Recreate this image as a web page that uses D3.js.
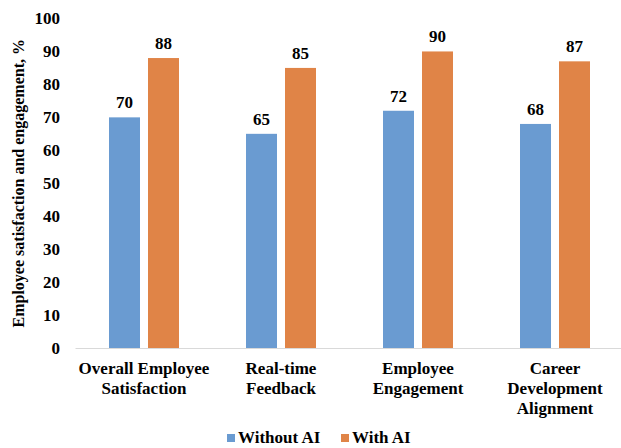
<!DOCTYPE html>
<html>
<head>
<meta charset="utf-8">
<script src="https://cdn.jsdelivr.net/npm/d3@7"></script>
<style>
  html, body { margin: 0; padding: 0; background: #fff; font-family: 'Liberation Serif', serif; }
</style>
</head>
<body>
<svg id="chart" width="621" height="448">
  <text id="ytitle" style="font-family:'Liberation Serif';font-weight:bold;font-size:16px" text-anchor="middle">Employee satisfaction and engagement, %</text>
</svg>
<script>
// Chart data
const categories = [
  ["Overall Employee", "Satisfaction"],
  ["Real-time", "Feedback"],
  ["Employee", "Engagement"],
  ["Career", "Development", "Alignment"]
];
const seriesNames = ["Without AI", "With AI"];
const withoutAI = [70, 65, 72, 68];
const withAI = [88, 85, 90, 87];
const yTicks = [0, 10, 20, 30, 40, 50, 60, 70, 80, 90, 100];
const colors = ["#6A9BD1", "#E08447"];

const FONT = "Liberation Serif";

const svg = d3.select("#chart");
const W = 621;
const plotLeft = 75.5, plotRight = 623.5, plotTop = 18.5, baseline = 348;

const x = d3.scaleBand()
  .domain(d3.range(categories.length))
  .range([plotLeft, plotRight])
  .paddingInner(0).paddingOuter(0);

const y = d3.scaleLinear().domain([0, 100]).range([baseline, plotTop]);

function styleText(sel, size) {
  return sel.attr("style", `font-family:'${FONT}';font-weight:bold;font-size:${size}px;fill:#000`);
}

const barW = 31, gap = 8;
const series = [withoutAI, withAI];

// Bars and value labels
series.forEach((vals, si) => {
  const offset = si === 0 ? -(gap / 2 + barW) : gap / 2;
  svg.append("g").selectAll("rect")
    .data(vals)
    .join("rect")
    .attr("x", (d, i) => x(i) + x.bandwidth() / 2 + offset)
    .attr("y", d => y(d))
    .attr("width", barW)
    .attr("height", d => y(0) - y(d))
    .attr("fill", colors[si]);

  svg.append("g").selectAll("text")
    .data(vals)
    .join("text")
    .attr("x", (d, i) => x(i) + x.bandwidth() / 2 + offset + barW / 2)
    .attr("y", d => y(d) - 9)
    .attr("text-anchor", "middle")
    .text(d => d)
    .call(styleText, 17);
});

// Baseline
svg.append("line")
  .attr("x1", plotLeft).attr("x2", W)
  .attr("y1", baseline + 0.5).attr("y2", baseline + 0.5)
  .attr("stroke", "#d9d9d9").attr("stroke-width", 1.2);

// Y axis tick labels
const yAxis = d3.axisLeft(y).tickValues(yTicks).tickSize(0).tickPadding(0);
const gy = svg.append("g").attr("transform", "translate(60,0)").call(yAxis);
gy.attr("font-family", FONT).attr("font-size", 17);
gy.select(".domain").remove();
gy.selectAll("text").call(styleText, 17);

// Y axis title (declared in the markup, positioned here)
d3.select("#ytitle")
  .attr("transform", `translate(24,${(baseline + plotTop) / 2}) rotate(-90)`);

// Category labels
const catG = svg.append("g");
categories.forEach((lines, i) => {
  const cx = x(i) + x.bandwidth() / 2;
  const t = catG.append("text")
    .attr("x", cx)
    .attr("y", 374)
    .attr("text-anchor", "middle")
    .call(styleText, 17);
  lines.forEach((ln, li) => {
    t.append("tspan")
      .attr("x", cx)
      .attr("dy", li === 0 ? 0 : 20)
      .text(ln);
  });
});

// Legend
const legendItems = [
  { name: seriesNames[0], color: colors[0], x: 227 },
  { name: seriesNames[1], color: colors[1], x: 341 }
];
const lg = svg.append("g");
legendItems.forEach(it => {
  lg.append("rect").attr("x", it.x).attr("y", 434).attr("width", 8).attr("height", 8).attr("fill", it.color);
  lg.append("text").attr("x", it.x + 11).attr("y", 443).text(it.name).call(styleText, 17);
});
</script>
</body>
</html>
